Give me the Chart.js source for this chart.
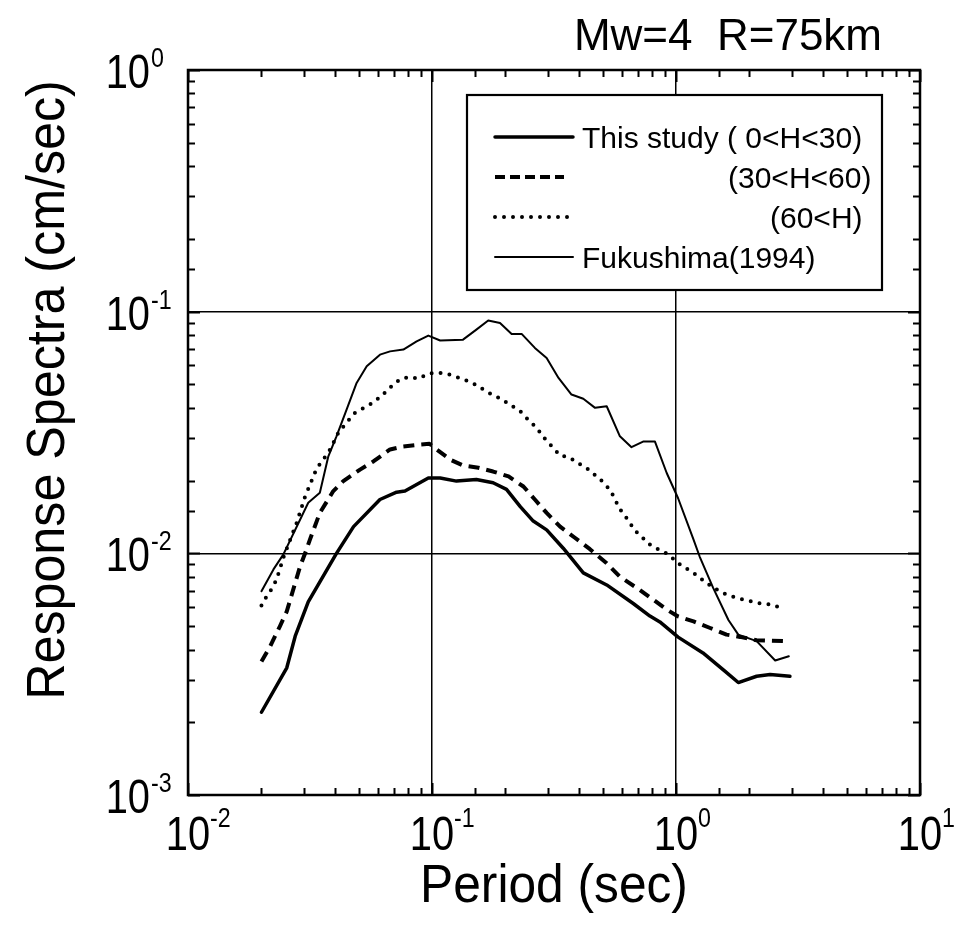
<!DOCTYPE html>
<html><head><meta charset="utf-8">
<script src="https://cdn.jsdelivr.net/npm/chart.js@4.4.0/dist/chart.umd.min.js"></script>
<style>html,body{margin:0;padding:0;background:#fff}#wrap{width:976px;height:944px}</style>
</head><body><div id="wrap"><canvas id="c" width="976" height="944"></canvas></div>
<script>
// ---------- data ----------
const chartTitle = 'Mw=4  R=75km';
const xAxisTitle = 'Period (sec)';
const yAxisTitle = 'Response Spectra (cm/sec)';
const xTickExponents = [-2, -1, 0, 1];
const yTickExponents = [0, -1, -2, -3];
const seriesNames = ['This study ( 0<H<30)', '(30<H<60)', '(60<H)', 'Fukushima(1994)'];

const periodShallow = [0.020,0.0254,0.0275,0.0311,0.0406,0.0477,0.0612,0.0716,0.0775,0.0966,0.108,0.126,0.152,0.178,0.202,0.230,0.260,0.295,0.345,0.417,0.52,0.668,0.782,0.859,1.02,1.29,1.59,1.80,2.14,2.43,2.93];
const spectraShallow = [0.0022,0.00336,0.00454,0.0063,0.0100,0.0129,0.0167,0.0179,0.0181,0.0205,0.0205,0.0199,0.0202,0.0196,0.0184,0.0156,0.0136,0.0125,0.0105,0.0083,0.0074,0.0062,0.0055,0.0052,0.0045,0.00387,0.00325,0.00292,0.0031,0.00315,0.0031];

const periodMiddle = [0.020,0.0217,0.0238,0.0254,0.0275,0.0288,0.0302,0.0316,0.0347,0.0394,0.0433,0.0507,0.0575,0.0673,0.0763,0.0894,0.0976,0.1045,0.119,0.134,0.155,0.178,0.206,0.237,0.264,0.295,0.335,0.385,0.444,0.52,0.589,0.69,0.807,0.916,1.02,1.18,1.38,1.61,1.83,2.14,2.88];
const spectraMiddle = [0.00357,0.00412,0.00499,0.00575,0.00754,0.00883,0.0100,0.0114,0.0147,0.0181,0.0199,0.0222,0.024,0.0269,0.0277,0.0282,0.0284,0.0269,0.0244,0.0231,0.0226,0.0218,0.0208,0.0189,0.0167,0.0147,0.0129,0.0116,0.0104,0.0091,0.0080,0.0072,0.00643,0.00585,0.00548,0.00523,0.00491,0.00461,0.00451,0.00437,0.00433];

const periodDeep = [0.020,0.021,0.0222,0.0231,0.0238,0.0246,0.0279,0.0302,0.0316,0.0337,0.0358,0.0382,0.0413,0.0447,0.0483,0.0526,0.0571,0.0622,0.0677,0.074,0.0807,0.0879,0.0966,0.105,0.115,0.124,0.136,0.148,0.161,0.176,0.192,0.209,0.230,0.248,0.269,0.286,0.310,0.335,0.364,0.398,0.431,0.473,0.512,0.545,0.571,0.598,0.638,0.675,0.730,0.787,0.859,0.930,1.02,1.12,1.22,1.32,1.45,1.58,1.72,1.89,2.07,2.24,2.47,2.69];
const spectraDeep = [0.00608,0.00664,0.0072,0.00783,0.00861,0.0096,0.0134,0.0172,0.0192,0.0225,0.0244,0.0269,0.0315,0.0348,0.0381,0.040,0.0419,0.0449,0.0488,0.0526,0.0537,0.0528,0.0554,0.056,0.0554,0.054,0.0523,0.0504,0.0479,0.0454,0.0436,0.0412,0.0387,0.0357,0.033,0.0303,0.0277,0.0254,0.025,0.0236,0.0225,0.0208,0.0194,0.0178,0.0162,0.0149,0.0137,0.0125,0.0116,0.0108,0.0103,0.0099,0.0091,0.00857,0.0081,0.00759,0.00713,0.00681,0.0066,0.00643,0.00631,0.00619,0.00614,0.00594];

const periodFukushima = [0.020,0.0224,0.0246,0.0311,0.0347,0.0376,0.0406,0.0447,0.0491,0.054,0.0612,0.0673,0.0763,0.0865,0.0966,0.108,0.134,0.152,0.170,0.190,0.212,0.233,0.264,0.295,0.330,0.373,0.417,0.466,0.52,0.589,0.657,0.733,0.82,0.916,1.02,1.18,1.25,1.42,1.64,1.80,2.14,2.55,2.90];
const spectraFukushima = [0.00697,0.00858,0.0099,0.0162,0.0178,0.0252,0.0305,0.0394,0.0507,0.0594,0.0664,0.0685,0.0697,0.0753,0.0796,0.076,0.0766,0.0843,0.092,0.0898,0.0809,0.0809,0.0708,0.0643,0.0532,0.0454,0.0436,0.040,0.0406,0.0305,0.0275,0.029,0.029,0.0215,0.0169,0.0114,0.0097,0.0072,0.0053,0.00461,0.00433,0.0036,0.00375];

// ---------- styling ----------
const FONT = '"Liberation Sans", Arial, Helvetica, sans-serif';
const toXY = (xs, ys) => xs.map((x, i) => ({x: x, y: ys[i]}));
const isDecade = v => v > 0 && Math.abs(Math.log10(v) - Math.round(Math.log10(v))) < 1e-6;

const datasets = [
  {label: seriesNames[0], data: toXY(periodShallow, spectraShallow), borderColor: '#000', borderWidth: 3.5, borderDash: [], borderCapStyle: 'round', borderJoinStyle: 'round'},
  {label: seriesNames[1], data: toXY(periodMiddle, spectraMiddle), borderColor: '#000', borderWidth: 4, borderDash: [11, 7], borderCapStyle: 'butt', borderJoinStyle: 'round'},
  {label: seriesNames[2], data: toXY(periodDeep, spectraDeep), borderColor: '#000', borderWidth: 4, borderDash: [0, 9], borderCapStyle: 'round', borderJoinStyle: 'round'},
  {label: seriesNames[3], data: toXY(periodFukushima, spectraFukushima), borderColor: '#000', borderWidth: 2, borderDash: [], borderCapStyle: 'round', borderJoinStyle: 'round'}
].map(d => Object.assign(d, {pointRadius: 0, fill: false, tension: 0, backgroundColor: '#000'}));

const legendLayout = {left: 467, top: 95, width: 415, height: 195, rowY0: 42, rowStep: 40, lineX0: 28, lineX1: 106, textX: [115, 261, 303, 115]};
const TICK_SX = 0.83;

function fillScaled(ctx, str, x, y, size, align, sx) {
  ctx.save();
  ctx.translate(x, y);
  ctx.scale(sx, 1);
  ctx.font = size + 'px ' + FONT;
  ctx.textAlign = align; ctx.textBaseline = 'alphabetic';
  ctx.fillText(str, 0, 0);
  ctx.restore();
}

const overlay = {
  id: 'overlay',
  afterDatasetsDraw(chart) {
    const ctx = chart.ctx, a = chart.chartArea;
    const xs = chart.scales.x, ys = chart.scales.y;
    ctx.save();
    ctx.fillStyle = '#000'; ctx.strokeStyle = '#000';
    // tick marks (inward, all four sides)
    ctx.lineWidth = 2;
    ctx.beginPath();
    xs.ticks.forEach(t => {
      const px = Math.round(xs.getPixelForValue(t.value)) + 0.5;
      const len = isDecade(t.value) ? 12 : 7;
      ctx.moveTo(px, a.bottom); ctx.lineTo(px, a.bottom - len);
      ctx.moveTo(px, a.top); ctx.lineTo(px, a.top + len);
    });
    ys.ticks.forEach(t => {
      const py = Math.round(ys.getPixelForValue(t.value)) + 0.5;
      const len = isDecade(t.value) ? 12 : 7;
      ctx.moveTo(a.left, py); ctx.lineTo(a.left + len, py);
      ctx.moveTo(a.right, py); ctx.lineTo(a.right - len, py);
    });
    ctx.stroke();
    // frame
    ctx.lineWidth = 2.5;
    ctx.strokeRect(a.left, a.top, a.right - a.left, a.bottom - a.top);

    // legend
    const L = legendLayout;
    ctx.fillStyle = '#fff';
    ctx.fillRect(L.left, L.top, L.width, L.height);
    ctx.lineWidth = 2.2; ctx.strokeStyle = '#000';
    ctx.strokeRect(L.left, L.top, L.width, L.height);
    chart.data.datasets.forEach((d, i) => {
      const y = L.top + L.rowY0 + i * L.rowStep;
      ctx.save();
      ctx.lineWidth = d.borderWidth;
      ctx.lineCap = d.borderCapStyle;
      ctx.setLineDash(i === 1 ? [10, 5] : d.borderDash);
      ctx.beginPath();
      ctx.moveTo(L.left + L.lineX0, y);
      ctx.lineTo(L.left + (i === 1 ? L.lineX1 - 9 : L.lineX1), y);
      ctx.stroke();
      ctx.restore();
      ctx.fillStyle = '#000';
      ctx.font = '30px ' + FONT;
      ctx.textAlign = 'left'; ctx.textBaseline = 'alphabetic';
      ctx.fillText(d.label, L.left + L.textX[i], y + 11);
    });

    // tick labels with superscript exponents
    ctx.fillStyle = '#000';
    xTickExponents.forEach(e => {
      const px = xs.getPixelForValue(Math.pow(10, e));
      fillScaled(ctx, '10', px, a.bottom + 55, 48, 'center', TICK_SX);
      fillScaled(ctx, String(e), px + 22, a.bottom + 32, 28, 'left', TICK_SX);
    });
    yTickExponents.forEach(e => {
      const py = ys.getPixelForValue(Math.pow(10, e));
      fillScaled(ctx, '10', a.left - 38, py + 18, 48, 'right', TICK_SX);
      fillScaled(ctx, String(e), a.left - 37, py - 3, 28, 'left', TICK_SX);
    });

    // titles
    ctx.font = '44px ' + FONT;
    ctx.textAlign = 'right'; ctx.textBaseline = 'alphabetic';
    ctx.fillText(chartTitle, a.right - 38, 50);
    fillScaled(ctx, xAxisTitle, (a.left + a.right) / 2, a.bottom + 107, 54, 'center', 0.92);
    ctx.save();
    ctx.translate(a.left - 124, a.top + 320);
    ctx.rotate(-Math.PI / 2);
    fillScaled(ctx, yAxisTitle, 0, 0, 54, 'center', 0.93);
    ctx.restore();
    ctx.restore();
  }
};

const gridColor = ctx => (ctx.tick && isDecade(ctx.tick.value)) ? '#000' : 'rgba(0,0,0,0)';

new Chart(document.getElementById('c'), {
  type: 'line',
  data: {datasets: datasets},
  options: {
    responsive: false,
    animation: false,
    devicePixelRatio: 1,
    layout: {padding: {left: 188, right: 56, top: 70, bottom: 149}},
    plugins: {legend: {display: false}, title: {display: false}, tooltip: {enabled: false}},
    scales: {
      x: {type: 'logarithmic', min: 0.01, max: 10, ticks: {display: false},
          grid: {drawTicks: false, color: gridColor, lineWidth: 1.5}, border: {display: false}},
      y: {type: 'logarithmic', min: 0.001, max: 1, ticks: {display: false},
          grid: {drawTicks: false, color: gridColor, lineWidth: 1.5}, border: {display: false}}
    }
  },
  plugins: [overlay]
});
</script>
</body></html>
